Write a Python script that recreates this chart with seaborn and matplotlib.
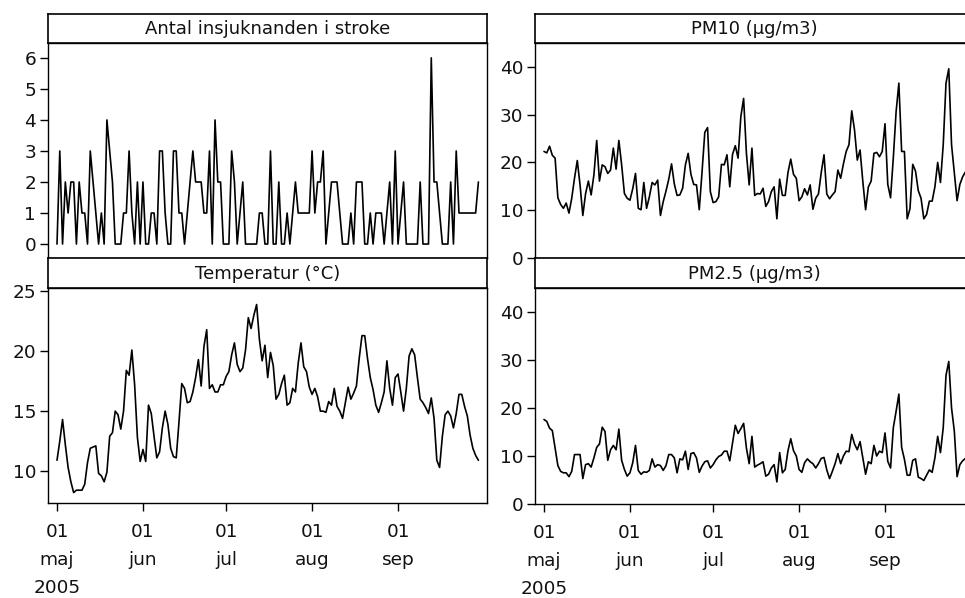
import numpy as np
import pandas as pd
import matplotlib
matplotlib.use("Agg")
import matplotlib.pyplot as plt
import matplotlib.dates as mdates
import seaborn as sns

# ---------------- data (daily, 1 May - 30 Sep 2005) ----------------
start_date = "2005-05-01"
n_days = 153

stroke = [0, 3, 0, 2, 1, 2, 2, 0, 2, 1,
          1, 0, 3, 2, 1, 0, 1, 0, 4, 3,
          2, 0, 0, 0, 1, 1, 3, 1, 0, 2,
          0, 2, 0, 0, 1, 1, 0, 3, 3, 1,
          0, 0, 3, 3, 1, 1, 0, 1, 2, 3,
          2, 2, 2, 1, 1, 3, 0, 4, 2, 2,
          0, 0, 0, 3, 2, 0, 1, 2, 0, 0,
          0, 0, 0, 1, 1, 0, 0, 3, 0, 0,
          2, 0, 0, 1, 0, 1, 2, 1, 1, 1,
          1, 1, 3, 1, 2, 2, 3, 0, 1, 2,
          2, 2, 1, 0, 0, 0, 1, 0, 2, 2,
          2, 0, 0, 1, 0, 1, 1, 1, 0, 1,
          2, 0, 3, 0, 1, 2, 0, 0, 0, 0,
          0, 2, 0, 0, 0, 6, 2, 2, 1, 0,
          0, 0, 2, 0, 3, 1, 1, 1, 1, 1,
          1, 1, 2]

temperatur = [10.9, 12.5, 14.3, 12.2, 10.3, 9.1, 8.2, 8.4, 8.4, 8.4,
              8.9, 10.7, 11.9, 12.0, 12.1, 9.8, 9.6, 9.1, 9.9, 12.9,
              13.2, 15.0, 14.7, 13.5, 15.0, 18.4, 18.0, 20.1, 17.2, 12.8,
              10.8, 11.8, 10.8, 15.5, 14.8, 12.9, 11.1, 11.6, 13.6, 15.0,
              13.9, 11.9, 11.2, 11.1, 14.1, 17.3, 16.9, 15.7, 15.8, 16.6,
              17.8, 19.3, 17.1, 20.4, 21.8, 16.9, 17.2, 16.6, 16.6, 17.2,
              17.2, 17.9, 18.3, 19.7, 20.7, 18.9, 18.3, 18.6, 20.1, 22.8,
              21.9, 23.0, 23.9, 21.0, 19.2, 20.5, 17.8, 19.9, 18.8, 16.0,
              16.4, 17.3, 18.0, 15.5, 15.7, 16.9, 16.6, 19.0, 20.7, 18.7,
              18.3, 17.0, 16.4, 16.9, 16.2, 15.0, 15.0, 14.9, 15.8, 15.5,
              16.9, 15.4, 15.0, 14.4, 15.7, 17.0, 16.0, 16.5, 17.1, 19.4,
              21.3, 21.3, 19.4, 17.8, 16.8, 15.5, 14.9, 15.7, 16.6, 19.2,
              16.9, 15.5, 17.8, 18.1, 16.6, 15.0, 16.9, 19.6, 20.2, 19.7,
              17.8, 16.0, 15.7, 15.3, 14.8, 16.1, 14.4, 10.9, 10.3, 12.9,
              14.7, 15.0, 14.6, 13.6, 14.8, 16.4, 16.4, 15.4, 14.6, 13.0,
              11.9, 11.3, 10.9]

pm10 = [22.3, 22.0, 23.4, 21.5, 20.9, 12.6, 11.2, 10.4, 11.5, 9.4,
        12.5, 16.7, 20.4, 15.3, 8.9, 13.5, 16.1, 13.2, 17.4, 24.6,
        16.1, 19.5, 19.1, 17.7, 18.4, 23.0, 18.6, 24.6, 19.5, 13.5,
        12.5, 12.1, 14.5, 17.7, 10.4, 10.1, 15.8, 10.4, 12.8, 15.8,
        15.3, 16.3, 8.9, 11.8, 14.0, 16.5, 19.7, 15.5, 13.1, 13.2,
        14.6, 19.5, 21.9, 17.5, 15.4, 15.3, 10.1, 18.0, 26.3, 27.3,
        13.9, 11.6, 11.8, 12.8, 19.6, 19.5, 21.6, 14.9, 21.7, 23.5,
        20.9, 29.6, 33.4, 22.0, 15.3, 23.0, 13.1, 13.5, 13.4, 14.6,
        10.8, 11.8, 13.9, 14.9, 8.2, 16.5, 13.1, 13.1, 17.9, 20.7,
        17.5, 16.7, 12.0, 12.8, 14.5, 13.2, 15.3, 10.2, 12.5, 13.4,
        17.9, 21.6, 13.4, 12.4, 13.2, 13.9, 18.4, 16.7, 19.7, 22.3,
        23.7, 30.8, 26.8, 20.5, 22.6, 16.0, 10.1, 14.9, 16.1, 21.9,
        22.1, 21.2, 22.3, 28.1, 15.4, 12.6, 21.0, 30.6, 36.6, 22.3,
        22.3, 8.2, 10.3, 19.6, 18.2, 14.1, 12.5, 8.2, 9.1, 11.9,
        11.9, 14.9, 20.0, 15.8, 23.7, 36.6, 39.6, 23.7, 17.9, 12.0,
        15.4, 17.0, 18.0]

pm25 = [17.6, 17.2, 15.8, 15.3, 11.7, 8.0, 6.8, 6.5, 6.5, 5.7,
        6.8, 10.3, 10.3, 10.3, 5.3, 8.2, 8.4, 7.7, 9.6, 11.8,
        12.5, 16.0, 15.1, 9.1, 11.3, 12.2, 11.3, 15.6, 9.1, 7.2,
        5.8, 6.5, 8.6, 12.2, 7.0, 6.2, 6.7, 6.6, 7.0, 9.4,
        7.7, 8.2, 8.0, 7.0, 8.0, 10.3, 10.3, 9.6, 6.5, 9.4,
        9.2, 11.0, 7.2, 10.5, 10.7, 9.6, 6.6, 7.9, 8.8, 9.0,
        7.5, 8.2, 9.2, 9.9, 10.2, 11.0, 11.0, 9.0, 12.7, 16.4,
        14.7, 15.7, 16.8, 11.7, 8.4, 14.1, 7.7, 8.1, 8.4, 8.8,
        5.8, 6.2, 7.5, 8.2, 4.6, 10.7, 6.5, 7.2, 11.1, 13.6,
        11.1, 10.0, 7.2, 6.6, 8.6, 9.4, 8.8, 8.4, 7.5, 8.4,
        9.5, 9.7, 7.1, 5.3, 6.8, 8.4, 10.5, 8.4, 10.0, 11.0,
        10.9, 14.5, 12.5, 11.3, 13.0, 9.6, 6.2, 8.8, 8.4, 12.2,
        10.0, 11.0, 10.7, 14.8, 8.9, 7.5, 15.9, 19.3, 22.9, 11.8,
        9.3, 6.0, 6.0, 9.1, 9.4, 5.6, 5.3, 4.9, 6.0, 7.1,
        6.6, 9.6, 14.1, 10.7, 15.9, 26.8, 29.7, 20.0, 15.2, 5.7,
        8.2, 9.0, 9.5]

panel_titles = ["Antal insjuknanden i stroke", "PM10 (µg/m3)",
                "Temperatur (°C)", "PM2.5 (µg/m3)"]
tick_dates = ["2005-05-01", "2005-06-01", "2005-07-01", "2005-08-01", "2005-09-01"]
tick_labels = ["01\nmaj\n2005", "01\njun", "01\njul", "01\naug", "01\nsep"]

dates = pd.date_range(start_date, periods=n_days, freq="D")
df = pd.DataFrame({"datum": dates, "stroke": stroke, "temperatur": temperatur,
                   "pm10": pm10, "pm25": pm25})

# ---------------- style ----------------
sns.set_theme(style="white")
plt.rcParams["font.family"] = ["DejaVu Sans"]
plt.rcParams["axes.edgecolor"] = "black"
plt.rcParams["axes.linewidth"] = 1.0

W, H = 965, 598
fig = plt.figure(figsize=(W / 100, H / 100), dpi=100)


def px_axes(x0, y0, x1, y1):
    return fig.add_axes([x0 / W, 1 - y1 / H, (x1 - x0) / W, (y1 - y0) / H])


d0 = mdates.date2num(pd.Timestamp(start_date))
xlim = (d0 - 3.25, d0 + 155.1)
tick_nums = mdates.date2num(pd.to_datetime(tick_dates))

TICK_FS = 13.3
STRIP_FS = 13.0

panels = [
    # col, title, (x0, x1), (strip_top, plot_top, plot_bottom), ylim, yticks, bottom row
    ("stroke", panel_titles[0], (48, 487), (14, 43, 258), (-0.45, 6.48), range(0, 7), False),
    ("pm10", panel_titles[1], (535, 974), (14, 43, 258), (0, 45), range(0, 41, 10), False),
    ("temperatur", panel_titles[2], (48, 487), (258, 288, 503), (7.33, 25.28), range(10, 26, 5), True),
    ("pm25", panel_titles[3], (535, 974), (258, 288, 504), (0, 45), range(0, 41, 10), True),
]

for col, title, (x0, x1), (st, pt, pb), ylim, yticks, bottom in panels:
    ax = px_axes(x0, pt, x1, pb)
    sns.lineplot(data=df, x="datum", y=col, ax=ax, color="black", linewidth=1.2)
    ax.set_xlim(*xlim)
    ax.set_ylim(*ylim)
    ax.set_yticks(list(yticks))
    ax.set_xlabel("")
    ax.set_ylabel("")
    ax.tick_params(axis="y", which="major", direction="out", length=6, width=1.0,
                   color="black", labelsize=TICK_FS, pad=2.5, left=True)
    for s in ax.spines.values():
        s.set_color("black")
        s.set_linewidth(1.0)
    if bottom:
        ax.set_xticks(tick_nums)
        ax.set_xticklabels(tick_labels)
        ax.tick_params(axis="x", which="major", direction="out", length=6, width=1.0,
                       color="black", labelsize=TICK_FS, pad=8.5, bottom=True)
        for lbl in ax.get_xticklabels():
            lbl.set_linespacing(1.72)
            lbl.set_verticalalignment("top")
    else:
        ax.set_xticks([])
    for lbl in ax.get_yticklabels() + ax.get_xticklabels():
        lbl.set_color("#111111")

    # strip (panel header)
    sax = px_axes(x0, st, x1, pt)
    sax.set_xticks([])
    sax.set_yticks([])
    sax.set_xlim(0, 1)
    sax.set_ylim(0, 1)
    for s in sax.spines.values():
        s.set_color("black")
        s.set_linewidth(1.2)
    sax.text(0.5, 0.47, title, ha="center", va="center", fontsize=STRIP_FS,
             color="#111111", transform=sax.transAxes)

fig.savefig("out.png", dpi=100)
